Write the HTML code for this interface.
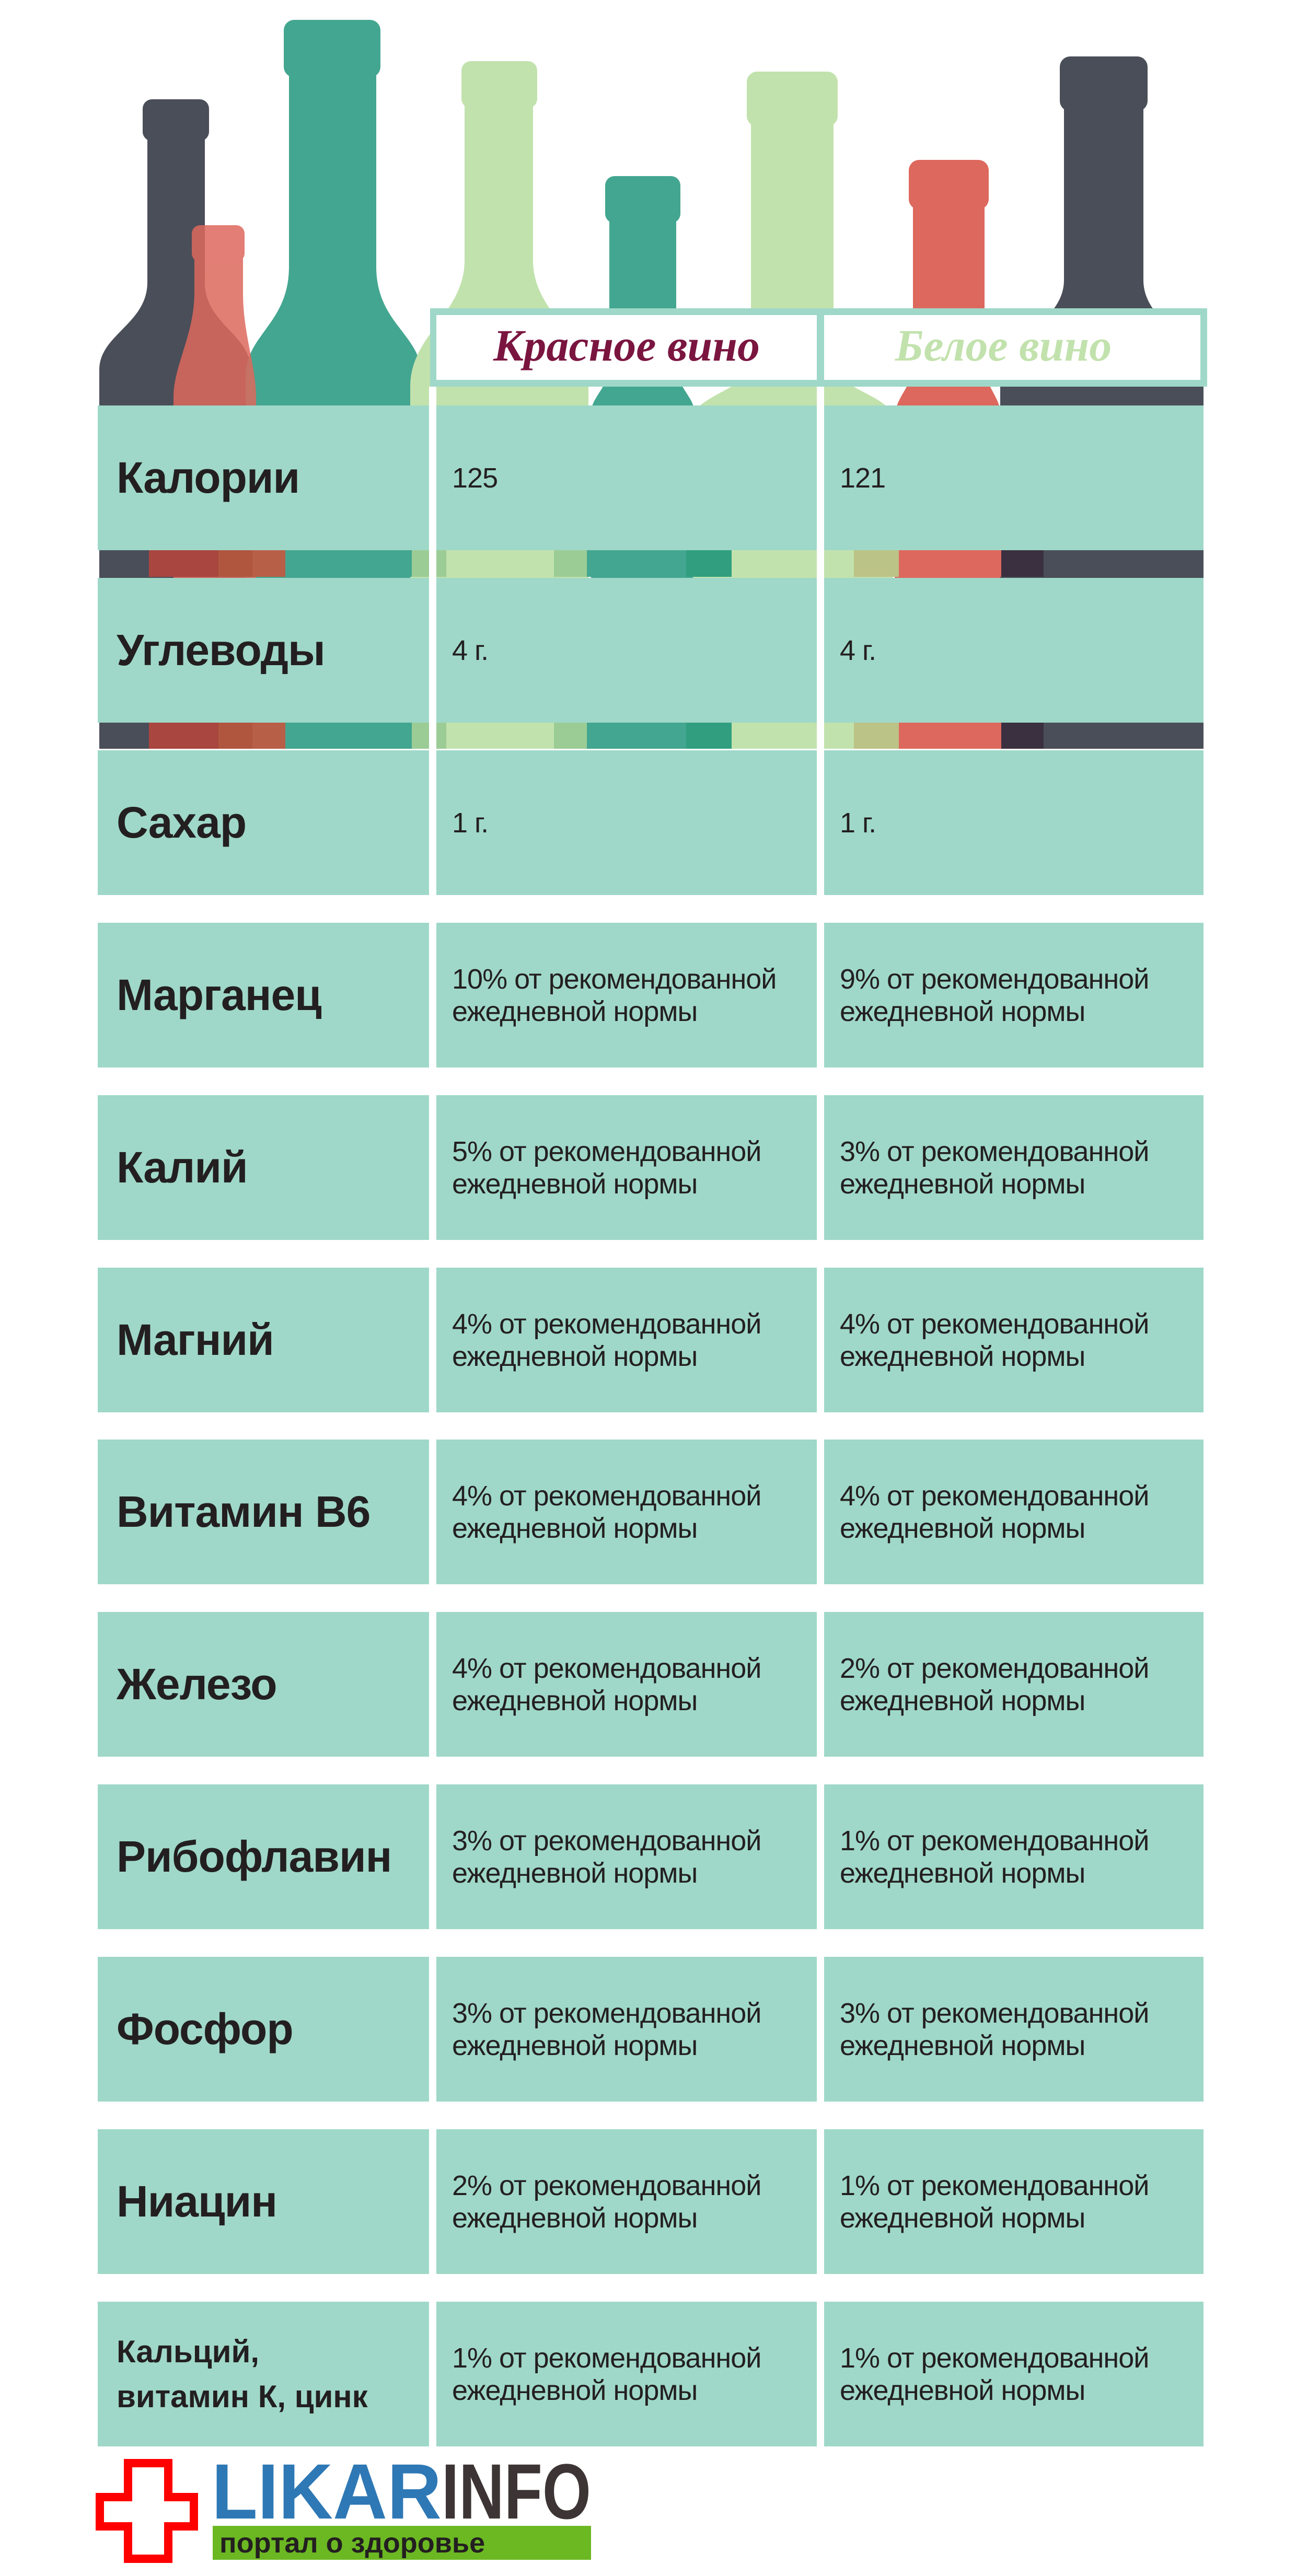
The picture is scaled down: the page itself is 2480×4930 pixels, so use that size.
<!DOCTYPE html>
<html><head><meta charset="utf-8"><style>
body{margin:0;width:2480px;height:4928px;background:#fff;position:relative;overflow:hidden;font-family:"Liberation Sans","Noto Sans CJK SC",sans-serif}
.c{position:absolute;background:#9fd8c8;height:277px;display:flex;align-items:center;box-sizing:border-box;color:#231f20}
.l{left:187px;width:634px;padding-left:36px;font-weight:bold;font-size:84px;letter-spacing:-1px}
.a{left:835px;width:728px;padding-left:30px;font-size:54px;line-height:62px;letter-spacing:-1px}
.b{left:1577px;width:726px;padding-left:30px;font-size:54px;line-height:62px;letter-spacing:-1px}
</style></head><body>
<svg width="2480" height="1500" style="position:absolute;left:0;top:0">
<defs></defs>
<g>
<rect x="273" y="190" width="127" height="80" rx="18" fill="#4a4e58"/>
<path d="M282 260 L282 540 C282 620 190 640 190 708 L190 1500 L480 1500 L480 708 C480 640 392 620 392 540 L392 260Z" fill="#4a4e58"/>
<rect x="543" y="38" width="185" height="110" rx="20" fill="#43a690"/>
<path d="M553 140 L553 510 C553 620 470 640 470 720 L470 1500 L807 1500 L807 720 C807 640 720 620 720 510 L720 140Z" fill="#43a690"/>
<rect x="883" y="117" width="145" height="90" rx="18" fill="#c2e2ad"/>
<path d="M889 200 L889 498 C889 600 785 640 785 740 L785 1500 L1126 1500 L1126 740 C1126 640 1020 600 1020 498 L1020 200Z" fill="#c2e2ad"/>
<rect x="1158" y="337" width="144" height="90" rx="18" fill="#43a690"/>
<path d="M1166 420 L1166 700 C1166 740 1131 760 1131 790 L1131 1500 L1329 1500 L1329 790 C1329 760 1294 740 1294 700 L1294 420Z" fill="#43a690"/>
<rect x="1429" y="137" width="174" height="105" rx="20" fill="#c2e2ad"/>
<path d="M1437 235 L1437 700 C1437 740 1326 760 1326 800 L1326 1500 L1709 1500 L1709 800 C1709 760 1595 740 1595 700 L1595 235Z" fill="#c2e2ad"/>
<rect x="1739" y="306" width="153" height="95" rx="20" fill="#dd685d"/>
<path d="M1747 395 L1747 700 C1747 740 1712 760 1712 800 L1712 1500 L1916 1500 L1916 800 C1916 760 1884 740 1884 700 L1884 395Z" fill="#dd685d"/>
<rect x="2028" y="108" width="168" height="105" rx="20" fill="#4a4e58"/>
<path d="M2036 205 L2036 536 C2036 620 1914 650 1914 720 L1914 1500 L2303 1500 L2303 720 C2303 650 2188 620 2188 536 L2188 205Z" fill="#4a4e58"/>
<g opacity="0.85">
<rect x="367" y="431" width="101" height="70" rx="16" fill="#dd685d"/>
<path d="M372 495 L372 560 C372 640 332 700 332 760 L332 1500 L490 1500 L490 760 C490 700 465 640 465 560 L465 495Z" fill="#dd685d"/>
</g>
</g>
<rect x="823" y="590" width="1487" height="150" fill="#9fd8c8"/>
<rect x="835" y="603" width="728" height="124" fill="#fff"/>
<rect x="1577" y="603" width="720" height="124" fill="#fff"/>
<text x="1199" y="690" text-anchor="middle" font-family="Liberation Serif" font-style="italic" font-weight="bold" font-size="86" fill="#7a1540">Красное вино</text>
<text x="1920" y="690" text-anchor="middle" font-family="Liberation Serif" font-style="italic" font-weight="bold" font-size="86" fill="#c2e2ad">Белое вино</text>
<g id="s">
<rect x="190" y="1053" width="95" height="51" fill="#4a4e58"/><rect x="285" y="1053" width="133" height="51" fill="#a9463f"/><rect x="418" y="1053" width="65" height="51" fill="#b0563f"/><rect x="483" y="1053" width="63" height="51" fill="#b85f47"/><rect x="546" y="1053" width="242" height="51" fill="#43a690"/><rect x="788" y="1053" width="66" height="51" fill="#9ccc95"/><rect x="854" y="1053" width="206" height="51" fill="#c2e2ad"/><rect x="1060" y="1053" width="63" height="51" fill="#9ccc95"/><rect x="1123" y="1053" width="190" height="51" fill="#43a690"/><rect x="1313" y="1053" width="87" height="51" fill="#319f7f"/><rect x="1400" y="1053" width="234" height="51" fill="#c2e2ad"/><rect x="1634" y="1053" width="86" height="51" fill="#bcc387"/><rect x="1720" y="1053" width="196" height="51" fill="#dd685d"/><rect x="1916" y="1053" width="81" height="51" fill="#3a3040"/><rect x="1997" y="1053" width="306" height="51" fill="#4a4e58"/>
</g>
<use href="#s" y="329"/>
<rect x="0" y="1433" width="2480" height="100" fill="#fff"/>
<rect x="2303" y="740" width="200" height="800" fill="#fff"/>
<rect x="0" y="776" width="187" height="800" fill="#fff"/>
<rect x="821" y="740" width="14" height="800" fill="#fff"/>
<rect x="1563" y="740" width="14" height="800" fill="#fff"/>
</svg>

<div class="c l" style="top:776px">Калории</div><div class="c a" style="top:776px">125</div><div class="c b" style="top:776px">121</div>
<div class="c l" style="top:1106px">Углеводы</div><div class="c a" style="top:1106px">4 г.</div><div class="c b" style="top:1106px">4 г.</div>
<div class="c l" style="top:1436px">Сахар</div><div class="c a" style="top:1436px">1 г.</div><div class="c b" style="top:1436px">1 г.</div>
<div class="c l" style="top:1766px">Марганец</div><div class="c a" style="top:1766px">10% от рекомендованной<br>ежедневной нормы</div><div class="c b" style="top:1766px">9% от рекомендованной<br>ежедневной нормы</div>
<div class="c l" style="top:2096px">Калий</div><div class="c a" style="top:2096px">5% от рекомендованной<br>ежедневной нормы</div><div class="c b" style="top:2096px">3% от рекомендованной<br>ежедневной нормы</div>
<div class="c l" style="top:2426px">Магний</div><div class="c a" style="top:2426px">4% от рекомендованной<br>ежедневной нормы</div><div class="c b" style="top:2426px">4% от рекомендованной<br>ежедневной нормы</div>
<div class="c l" style="top:2755px">Витамин В6</div><div class="c a" style="top:2755px">4% от рекомендованной<br>ежедневной нормы</div><div class="c b" style="top:2755px">4% от рекомендованной<br>ежедневной нормы</div>
<div class="c l" style="top:3085px">Железо</div><div class="c a" style="top:3085px">4% от рекомендованной<br>ежедневной нормы</div><div class="c b" style="top:3085px">2% от рекомендованной<br>ежедневной нормы</div>
<div class="c l" style="top:3415px">Рибофлавин</div><div class="c a" style="top:3415px">3% от рекомендованной<br>ежедневной нормы</div><div class="c b" style="top:3415px">1% от рекомендованной<br>ежедневной нормы</div>
<div class="c l" style="top:3745px">Фосфор</div><div class="c a" style="top:3745px">3% от рекомендованной<br>ежедневной нормы</div><div class="c b" style="top:3745px">3% от рекомендованной<br>ежедневной нормы</div>
<div class="c l" style="top:4075px">Ниацин</div><div class="c a" style="top:4075px">2% от рекомендованной<br>ежедневной нормы</div><div class="c b" style="top:4075px">1% от рекомендованной<br>ежедневной нормы</div>
<div class="c l" style="top:4405px;font-size:60px;line-height:86px;letter-spacing:0">Кальций,<br>витамин К, цинк</div><div class="c a" style="top:4405px">1% от рекомендованной<br>ежедневной нормы</div><div class="c b" style="top:4405px">1% от рекомендованной<br>ежедневной нормы</div>

<svg width="2480" height="240" style="position:absolute;left:0;top:4690px">
<path d="M245 24 L322 24 L322 89 L371 89 L371 145 L322 145 L322 207 L245 207 L245 145 L191 145 L191 89 L245 89Z" fill="#fff" stroke="#f00" stroke-width="16"/>
<text x="405" y="130" font-family="Liberation Sans" font-weight="bold" font-size="150" textLength="440" lengthAdjust="spacingAndGlyphs" fill="#2e78b5">LIKAR</text>
<text x="845" y="130" font-family="Liberation Sans" font-weight="bold" font-size="150" textLength="286" lengthAdjust="spacingAndGlyphs" fill="#3d3535">INFO</text>
<rect x="407" y="144" width="724" height="65" fill="#6bb823"/>
<text x="420" y="195" font-family="Liberation Sans" font-weight="bold" font-size="54" fill="#231f20">портал о здоровье</text>
</svg>
</body></html>
